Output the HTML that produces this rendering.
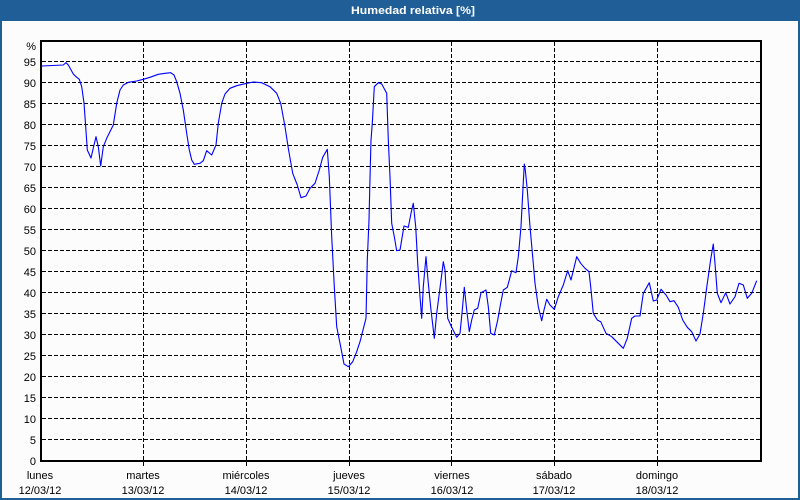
<!DOCTYPE html>
<html>
<head>
<meta charset="utf-8">
<style>
html,body{margin:0;padding:0;background:#fbfcfb;}
svg{display:block;}
text{font-family:"Liberation Sans","DejaVu Sans",sans-serif;font-size:11px;fill:#000;}
</style>
</head>
<body>
<svg width="800" height="500" viewBox="0 0 800 500" xmlns="http://www.w3.org/2000/svg">
<rect x="0" y="0" width="800" height="500" fill="#fbfcfb"/>
<!-- title bar -->
<rect x="0" y="0" width="800" height="21" fill="#1f5e96"/>
<text x="351" y="14" style="font-weight:bold;fill:#ffffff;font-size:11px" textLength="124" lengthAdjust="spacingAndGlyphs">Humedad relativa [%]</text>
<!-- outer border -->
<rect x="0" y="0" width="2" height="500" fill="#1f5e96"/>
<rect x="798" y="0" width="2" height="500" fill="#1f5e96"/>
<rect x="0" y="498" width="800" height="2" fill="#1f5e96"/>

<!-- horizontal grid -->
<g stroke="#000" stroke-width="1" stroke-dasharray="4 2" shape-rendering="crispEdges">
<line x1="42" x2="760" y1="439.5" y2="439.5"/>
<line x1="42" x2="760" y1="418.5" y2="418.5"/>
<line x1="42" x2="760" y1="397.5" y2="397.5"/>
<line x1="42" x2="760" y1="376.5" y2="376.5"/>
<line x1="42" x2="760" y1="355.5" y2="355.5"/>
<line x1="42" x2="760" y1="334.5" y2="334.5"/>
<line x1="42" x2="760" y1="313.5" y2="313.5"/>
<line x1="42" x2="760" y1="292.5" y2="292.5"/>
<line x1="42" x2="760" y1="271.5" y2="271.5"/>
<line x1="42" x2="760" y1="250.5" y2="250.5"/>
<line x1="42" x2="760" y1="229.5" y2="229.5"/>
<line x1="42" x2="760" y1="208.5" y2="208.5"/>
<line x1="42" x2="760" y1="187.5" y2="187.5"/>
<line x1="42" x2="760" y1="166.5" y2="166.5"/>
<line x1="42" x2="760" y1="145.5" y2="145.5"/>
<line x1="42" x2="760" y1="124.5" y2="124.5"/>
<line x1="42" x2="760" y1="103.5" y2="103.5"/>
<line x1="42" x2="760" y1="82.5" y2="82.5"/>
<line x1="42" x2="760" y1="61.5" y2="61.5"/>
</g>
<!-- vertical grid -->
<g stroke="#000" stroke-width="1" stroke-dasharray="4 2" shape-rendering="crispEdges">
<line x1="143.5" x2="143.5" y1="42" y2="467"/>
<line x1="246.5" x2="246.5" y1="42" y2="467"/>
<line x1="349.5" x2="349.5" y1="42" y2="467"/>
<line x1="451.5" x2="451.5" y1="42" y2="467"/>
<line x1="554.5" x2="554.5" y1="42" y2="467"/>
<line x1="657.5" x2="657.5" y1="42" y2="467"/>
</g>
<!-- axes box -->
<rect x="41" y="41" width="720" height="420" fill="none" stroke="#000" stroke-width="2" shape-rendering="crispEdges"/>

<!-- y labels -->
<g text-anchor="end">
<text x="36" y="50">%</text>
<text x="36" y="66">95</text>
<text x="36" y="87">90</text>
<text x="36" y="108">85</text>
<text x="36" y="129">80</text>
<text x="36" y="150">75</text>
<text x="36" y="171">70</text>
<text x="36" y="192">65</text>
<text x="36" y="213">60</text>
<text x="36" y="234">55</text>
<text x="36" y="255">50</text>
<text x="36" y="276">45</text>
<text x="36" y="297">40</text>
<text x="36" y="318">35</text>
<text x="36" y="339">30</text>
<text x="36" y="360">25</text>
<text x="36" y="381">20</text>
<text x="36" y="402">15</text>
<text x="36" y="423">10</text>
<text x="36" y="444">5</text>
<text x="36" y="465">0</text>
</g>

<!-- x labels -->
<g text-anchor="middle">
<text x="40" y="479">lunes</text><text x="40" y="494">12/03/12</text>
<text x="143" y="479">martes</text><text x="143" y="494">13/03/12</text>
<text x="246" y="479">miércoles</text><text x="246" y="494">14/03/12</text>
<text x="349" y="479">jueves</text><text x="349" y="494">15/03/12</text>
<text x="452" y="479">viernes</text><text x="452" y="494">16/03/12</text>
<text x="554" y="479">sábado</text><text x="554" y="494">17/03/12</text>
<text x="657" y="479">domingo</text><text x="657" y="494">18/03/12</text>
</g>

<!-- series -->
<polyline fill="none" stroke="#0000ff" stroke-width="1.1" stroke-linejoin="round" points="
42,66 63.3,65 66,62.7 68.3,65 73.3,74 76,76.7 79.3,79.3 81.7,86.7 84,103 85.7,126.7 87.3,150 91,158 93.3,148 96,136.7 98.3,146.7 100.7,166 103.3,146.7 106.7,138.3 113.3,125 116.7,103.3 120,90 123.3,85 128.3,82.3 136.7,81 143.3,79.3 150,77.3 158.3,74.3 165,73.3 170.7,72.7 174,75 176.7,81.7 180,93.3 183.3,110 186.7,133.3 189.3,150 191.7,160 194.3,164.3 200,163.3
203.3,160.7 206.7,150.7 211.7,155 216,145 218.3,123.3 221.7,103.3 225,94 230,88.3 236.7,85.7 246.7,83.3 253.3,82 261.7,82.7 270,86.7 276.7,93.3 280.7,103.3 285,126.7 288.3,148.3 292.7,173.3 297.3,185 301,197.7 306,196 310,188.3 315,183.3 319.3,170 322.7,157.3 327.3,149.3 329.3,176.7 331.7,236.7 334.3,286.7 336.7,326.7 340,343.3 344,364 348.3,366.7 352.7,361.7 356.7,351.7 360,341.7
366,318.3 367.3,260 369,220 370,178.3 371,140 372.3,123.3 374.3,86.7 378.3,82.7 381.7,84 386.7,93.3 388.3,140 390,176.7 391.7,223.3 394.3,236.7 396.7,250.7 400,250 404,226 408.3,227.3 411,213.3 413.3,203.3 415.7,226.7 417.7,263.3 420,296.7 421.7,318.3 423.3,286.7 426,256.7 428.3,283.3 431,310 434.3,338.3 436.7,313.3 439.3,293.3 442.3,270 443.3,261.7 445,270 447.7,318.3 451.7,327.3 456.7,337.3 460,333.3 462.3,310 464.3,287.3 466.7,310 469.3,331.7 471.7,320 474.3,310 477.7,308.3 481,292.7 486,290 488.3,306.7 490.7,333.3 494.3,335 497.7,320 500.7,303.3 503.3,290 507.3,287.3 509.3,280 511.7,270.7
516,272.7 518.3,256.7 521,226.7 522.7,193.3 524.3,164 525.3,170 527.3,190 530,226.7 532.7,256.7 535,283.3 538.3,306.7 541.7,320.7 544,310 546.7,299.3 550,305 554.3,309.3 558.3,296.7 563.3,285 567.7,270.7 571,280 576.7,256.7 580.7,263.3 585,268.3 589,271.7 590.7,286.7 593.3,313.3 597.3,320 600.7,321.7 606,333.3 611.7,336.7 623.3,348.3 627.3,338.3 631.7,318.3 635,316 640,316
643.3,293.3 646.7,287.3 649.3,282.7 653.3,301 656.7,300 661,289.3 666,295 670,301.7 674,300.7 678.3,307.3 682.7,320 687.3,327.3 691.7,331.7 696,341 700,334 703.3,313.3 707.3,283.3 710.7,259.3 713.3,244 715,263.3 717.3,293.3 721,302.7 725.7,292.7 730,304 735,296.7 739,283.3 743.3,285 747.3,298.3 751.7,293.3 756.7,280.7"/>
</svg>
</body>
</html>
